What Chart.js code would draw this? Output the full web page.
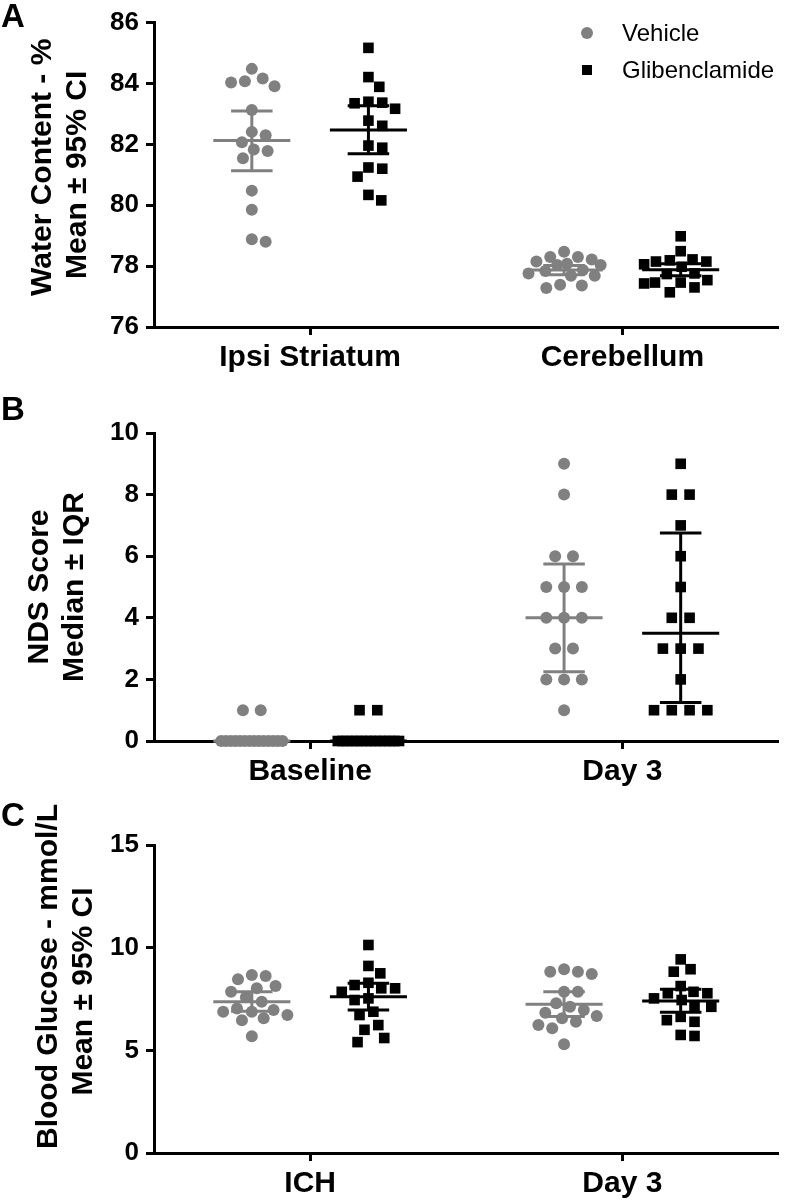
<!DOCTYPE html>
<html>
<head>
<meta charset="utf-8">
<script src="https://cdn.jsdelivr.net/npm/chart.js@4.4.1/dist/chart.umd.min.js"></script>
<style>
  body { margin: 0; background: #fff; }
  #page { position: relative; width: 786px; height: 1200px; font-family: 'Liberation Sans', Arial, sans-serif; }
  .panel { position: absolute; left: 0; width: 786px; }
  .letter { position: absolute; left: 1px; font-size: 33px; font-weight: bold; line-height: 34px; color: #000; }
  .legtext { position: absolute; left: 622px; font-size: 24px; line-height: 28px; color: #000; }
</style>
</head>
<body>
<div id="page">
  <div class="panel" style="top:0;height:395px"><canvas id="chartA" width="786" height="395"></canvas></div>
  <div class="panel" style="top:395px;height:405px"><canvas id="chartB" width="786" height="405"></canvas></div>
  <div class="panel" style="top:800px;height:400px"><canvas id="chartC" width="786" height="400"></canvas></div>

  <div class="letter" style="top:-1px">A</div>
  <div class="letter" style="top:392px">B</div>
  <div class="letter" style="top:798px">C</div>

  <!-- legend -->
  <div style="position:absolute;left:581px;top:27px;width:12px;height:12px;border-radius:50%;background:#808080"></div>
  <div class="legtext" style="top:19px">Vehicle</div>
  <div style="position:absolute;left:582px;top:65px;width:10px;height:10px;background:#000"></div>
  <div class="legtext" style="top:56px">Glibenclamide</div>
</div>
<script>
//---------------- Data

var groupNames = ["Vehicle", "Glibenclamide"]
var groupColors = ["#808080", "#000000"]

// Panel A - water content
var catsA = ["Ipsi Striatum", "Cerebellum"]
var vehStriatum = [84.48, 84.07, 83.91, 84.03, 84.16, 83.13, 82.30, 82.07, 82.41, 81.78, 81.83, 81.54, 80.48, 79.85, 78.80, 78.88]
var gliStriatum = [85.17, 84.21, 83.89, 83.40, 83.35, 83.37, 83.17, 82.78, 82.61, 81.89, 81.96, 81.20, 81.24, 80.94, 80.16, 80.34]
var vehCerebellum = [78.47, 78.30, 78.30, 78.22, 78.15, 78.08, 78.04, 78.04, 77.87, 77.84, 77.76, 77.68, 77.68, 77.39, 77.36, 77.28]
var gliCerebellum = [78.98, 78.49, 78.22, 78.19, 78.15, 78.15, 78.06, 77.98, 77.76, 77.74, 77.54, 77.46, 77.46, 77.43, 77.30, 77.14]
// mean and 95% CI, order: veh striatum, gli striatum, veh cerebellum, gli cerebellum
var meanA = [82.13, 82.47, 77.87, 77.88]
var lowA = [81.13, 81.69, 77.72, 77.68]
var highA = [83.10, 83.27, 78.02, 78.08]
var ticksA = [76, 78, 80, 82, 84, 86]

// Panel B - NDS score
var catsB = ["Baseline", "Day 3"]
var vehBaseline = [1, 1, 0, 0, 0, 0, 0, 0, 0, 0, 0, 0, 0, 0, 0, 0]
var gliBaseline = [1, 1, 0, 0, 0, 0, 0, 0, 0, 0, 0, 0, 0, 0, 0, 0]
var vehDay3 = [9, 8, 6, 6, 5, 5, 5, 4, 4, 4, 3, 3, 2, 2, 2, 1]
var gliDay3 = [9, 8, 8, 7, 6, 5, 4, 4, 3, 3, 3, 2, 1, 1, 1, 1]
// median and IQR
var medianB = [0, 0, 4, 3.5]
var q1B = [0, 0, 2.25, 1.25]
var q3B = [0, 0, 5.75, 6.75]
var ticksB = [0, 2, 4, 6, 8, 10]

// Panel C - blood glucose
var catsC = ["ICH", "Day 3"]
var vehICH = [8.67, 8.62, 8.46, 8.13, 8.02, 7.85, 7.58, 7.37, 7.04, 6.96, 6.88, 6.88, 6.72, 6.56, 6.47, 5.69]
var gliICH = [10.13, 9.11, 8.75, 8.29, 8.18, 8.02, 8.02, 7.85, 7.53, 7.45, 6.88, 6.72, 6.23, 6.00, 5.60, 5.40]
var vehGlucoseDay3 = [8.95, 8.83, 8.83, 8.72, 7.85, 7.85, 7.29, 7.12, 6.96, 6.83, 6.67, 6.56, 6.39, 6.23, 6.07, 5.30]
var gliGlucoseDay3 = [9.43, 8.95, 8.83, 8.13, 7.85, 7.78, 7.78, 7.53, 7.45, 7.12, 7.12, 6.63, 6.47, 6.39, 5.75, 5.70]
var meanC = [7.37, 7.61, 7.24, 7.40]
var lowC = [6.90, 6.96, 6.65, 6.85]
var highC = [7.85, 8.27, 7.85, 7.97]
var ticksC = [0, 5, 10, 15]

//---------------- Layout helpers

var fontFamily = "'Liberation Sans', Arial, sans-serif"
var sp = "\u2002"   //en space, nudges a centred axis title upwards

//Greedy beeswarm in pixels: each point goes as close to the centre as it can without touching placed ones
function swarmOffsets(values, pxY, dist, maxHalf) {
    var order = values.map(function (v, i) { return i }).sort(function (a, b) { return values[b] - values[a] })
    var placed = []
    var offsets = new Array(values.length)
    order.forEach(function (i) {
        var y = values[i] * pxY
        var chosen = null, bestPos = 0, bestDist = -1
        for (var k = 0; k <= maxHalf && chosen === null; k++) {
            var cands = k === 0 ? [0] : [k, -k]
            for (var c = 0; c < cands.length; c++) {
                var s = cands[c]
                var minD = Infinity
                placed.forEach(function (p) {
                    var d = Math.sqrt((p.x - s) * (p.x - s) + (p.y - y) * (p.y - y))
                    if (d < minD) minD = d
                })
                if (minD >= dist) { chosen = s; break }
                if (minD > bestDist) { bestDist = minD; bestPos = s }
            }
        }
        if (chosen === null) chosen = bestPos
        offsets[i] = chosen
        placed.push({ x: chosen, y: y })
    })
    return offsets
}

//Tied values side by side, centred, squeezed when there are too many
function rowOffsets(values, step, maxWidth) {
    var counts = {}, seen = {}
    values.forEach(function (v) { counts[v] = (counts[v] || 0) + 1 })
    return values.map(function (v) {
        var n = counts[v]
        var j = seen[v] || 0
        seen[v] = j + 1
        var gap = n > 1 ? Math.min(step, maxWidth / (n - 1)) : 0
        return (j - (n - 1) / 2) * gap
    })
}

function makePanel(id, p) {
    var chart = new Chart(document.getElementById(id), {
        type: "scatter",
        data: { datasets: [] },
        options: {
            responsive: false,
            animation: false,
            devicePixelRatio: 1,
            events: [],
            layout: { padding: { top: p.padTop, left: 0, right: 0, bottom: 0 } },
            plugins: { legend: { display: false }, tooltip: { enabled: false } },
            scales: {
                x: {
                    type: "linear", min: -0.5, max: 1.5,
                    afterBuildTicks: function (s) { s.ticks = p.cats.map(function (c, i) { return { value: i } }) },
                    afterFit: function (s) { s.height = p.xHeight },
                    ticks: {
                        callback: function (v) { return p.cats[v] },
                        font: { family: fontFamily, size: 30, weight: "bold" },
                        color: "#000", padding: 5, maxRotation: 0, autoSkip: false
                    },
                    grid: { drawOnChartArea: false, tickLength: 8, tickWidth: 3, color: "#000" },
                    border: { width: 3, color: "#000" }
                },
                y: {
                    min: p.ticks[0], max: p.ticks[p.ticks.length - 1],
                    afterBuildTicks: function (s) { s.ticks = p.ticks.map(function (t) { return { value: t } }) },
                    afterFit: function (s) { s.width = 154 },
                    ticks: { font: { family: fontFamily, size: 26, weight: "bold" }, color: "#000", padding: 7 },
                    grid: { drawOnChartArea: false, tickLength: 8, tickWidth: 3, color: "#000" },
                    border: { width: 3, color: "#000" },
                    title: {
                        display: true, text: p.title, color: "#000",
                        font: { family: fontFamily, size: 30, weight: "bold", lineHeight: 1.17 },
                        padding: { top: p.titlePad, bottom: 0 }
                    }
                }
            }
        }
    })

    var xs = chart.scales.x, ys = chart.scales.y
    var pxX = xs.getPixelForValue(1) - xs.getPixelForValue(0)
    var pxY = ys.getPixelForValue(p.ticks[0]) - ys.getPixelForValue(p.ticks[0] + 1)
    var datasets = []

    p.groups.forEach(function (vals, g) {
        var cat = Math.floor(g / 2), grp = g % 2
        var cx = cat + (grp === 0 ? -59 : 59) / pxX
        var color = groupColors[grp]
        var offs = p.rows ? rowOffsets(vals, 18, 62) : swarmOffsets(vals, pxY, 14, 37)
        var c = p.center[g], lo = p.low[g], hi = p.high[g]
        var segs = [
            [[cx - 39 / pxX, c], [cx + 39 / pxX, c]],
            [[cx - 21 / pxX, hi], [cx + 21 / pxX, hi]],
            [[cx - 21 / pxX, lo], [cx + 21 / pxX, lo]],
            [[cx, lo], [cx, hi]]
        ]
        segs.forEach(function (s) {
            datasets.push({
                data: s.map(function (q) { return { x: q[0], y: q[1] } }),
                showLine: true, borderColor: color, borderWidth: 3, pointRadius: 0, clip: false
            })
        })
        datasets.push({
            label: groupNames[grp],
            data: vals.map(function (v, i) { return { x: cx + offs[i] / pxX, y: v } }),
            pointStyle: grp === 0 ? "circle" : "rect",
            pointRadius: grp === 0 ? 6 : 7.5,
            backgroundColor: color, borderColor: color, borderWidth: 0, clip: false
        })
    })

    chart.data.datasets = datasets
    chart.update("none")
}

makePanel("chartA", {
    cats: catsA, ticks: ticksA, padTop: 19, xHeight: 68, titlePad: 25,
    title: [sp + "Water Content - %", "Mean \u00b1 95% CI"],
    groups: [vehStriatum, gliStriatum, vehCerebellum, gliCerebellum],
    center: meanA, low: lowA, high: highA, rows: false
})

makePanel("chartB", {
    cats: catsB, ticks: ticksB, padTop: 38, xHeight: 59, titlePad: 22,
    title: ["NDS Score", "Median \u00b1 IQR"],
    groups: [vehBaseline, gliBaseline, vehDay3, gliDay3],
    center: medianB, low: q1B, high: q3B, rows: true
})

makePanel("chartC", {
    cats: catsC, ticks: ticksC, padTop: 45, xHeight: 47, titlePad: 31,
    title: [sp + sp + sp + "Blood Glucose - mmol/L", sp + "Mean \u00b1 95% CI"],
    groups: [vehICH, gliICH, vehGlucoseDay3, gliGlucoseDay3],
    center: meanC, low: lowC, high: highC, rows: false
})
</script>
</body>
</html>
